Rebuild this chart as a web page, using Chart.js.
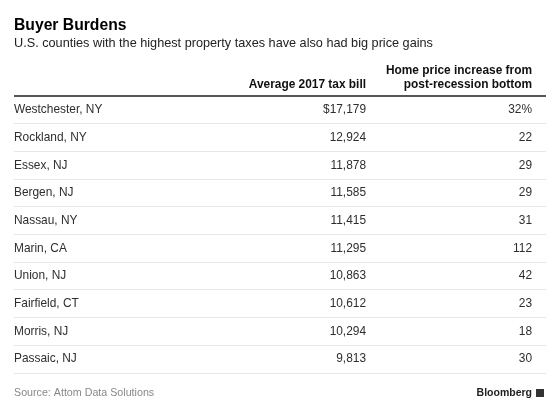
<!DOCTYPE html>
<html><head><meta charset="utf-8">
<script src="https://cdn.jsdelivr.net/npm/chart.js@4/dist/chart.umd.min.js"></script>
<style>html,body{margin:0;padding:0;background:#fff}canvas{display:block}</style>
</head><body>
<canvas id="c" width="560" height="413"></canvas>
<script>
const titleText = "Buyer Burdens";
const subtitleText = "U.S. counties with the highest property taxes have also had big price gains";
const counties = ["Westchester, NY","Rockland, NY","Essex, NJ","Bergen, NJ","Nassau, NY","Marin, CA","Union, NJ","Fairfield, CT","Morris, NJ","Passaic, NJ"];
const taxBill = [17179,12924,11878,11585,11415,11295,10863,10612,10294,9813];
const priceGain = [32,22,29,29,31,112,42,23,18,30];
const taxHeader = ["Average 2017 tax bill"];
const gainHeader = ["Home price increase from","post-recession bottom"];
const sourceText = "Source: Attom Data Solutions";
const brandText = "Bloomberg";

const FONT = "'Liberation Sans', Arial, sans-serif";
const COL_TAX_X = 366, COL_GAIN_X = 532;

const tablePlugin = {
  id: 'tableText',
  afterDraw(chart) {
    const ctx = chart.ctx, y = chart.scales.y, area = chart.chartArea;
    ctx.save();
    ctx.textBaseline = 'alphabetic';
    // title
    ctx.fillStyle = '#000';
    ctx.textAlign = 'left';
    ctx.font = "bold 15.7px " + FONT;
    ctx.fillText(titleText, 14, 29.5);
    ctx.fillStyle = '#222';
    ctx.font = "12.7px " + FONT;
    ctx.fillText(subtitleText, 14, 46.5);
    // headers
    ctx.fillStyle = '#111';
    ctx.font = "bold 11.9px " + FONT;
    ctx.textAlign = 'right';
    taxHeader.forEach((t, i) => ctx.fillText(t, COL_TAX_X, 87.5 - (taxHeader.length - 1 - i) * 14));
    gainHeader.forEach((t, i) => ctx.fillText(t, COL_GAIN_X, 87.5 - (gainHeader.length - 1 - i) * 14));
    // heavy line
    ctx.strokeStyle = '#555';
    ctx.lineWidth = 2;
    ctx.beginPath();
    ctx.moveTo(area.left, area.top);
    ctx.lineTo(area.right, area.top);
    ctx.stroke();
    // values
    ctx.fillStyle = '#2e2e2e';
    ctx.font = "11.9px " + FONT;
    ctx.textBaseline = 'middle';
    counties.forEach((c, i) => {
      const py = y.getPixelForValue(i);
      ctx.fillText((i === 0 ? '$' : '') + taxBill[i].toLocaleString('en-US'), COL_TAX_X, py);
      ctx.fillText(priceGain[i] + (i === 0 ? '%' : ''), COL_GAIN_X, py);
    });
    // footer
    ctx.textBaseline = 'middle';
    ctx.textAlign = 'left';
    ctx.fillStyle = '#888';
    ctx.font = "10.7px " + FONT;
    ctx.fillText(sourceText, 14, 393);
    ctx.textAlign = 'right';
    ctx.fillStyle = '#222';
    ctx.font = "bold 10.5px " + FONT;
    ctx.fillText(brandText, 532, 393);
    ctx.fillStyle = '#333';
    ctx.fillRect(536, 389, 8, 8);
    ctx.restore();
  }
};

new Chart(document.getElementById('c'), {
  type: 'bar',
  data: {
    labels: counties,
    datasets: [{ data: taxBill, backgroundColor: 'rgba(0,0,0,0)', borderWidth: 0 }]
  },
  options: {
    indexAxis: 'y',
    responsive: false,
    animation: false,
    devicePixelRatio: 1,
    layout: { padding: { left: 14, right: 14, top: 96, bottom: 40 } },
    plugins: { legend: { display: false }, tooltip: { enabled: false }, title: { display: false } },
    scales: {
      x: { display: false, min: 0 },
      y: {
        display: true,
        grid: { color: '#e6e6e6', drawTicks: false, offset: true, lineWidth: 1 },
        border: { display: false },
        ticks: { mirror: true, padding: 0, color: '#2e2e2e', font: { family: FONT, size: 11.9 } }
      }
    }
  },
  plugins: [tablePlugin]
});
</script>
</body></html>
